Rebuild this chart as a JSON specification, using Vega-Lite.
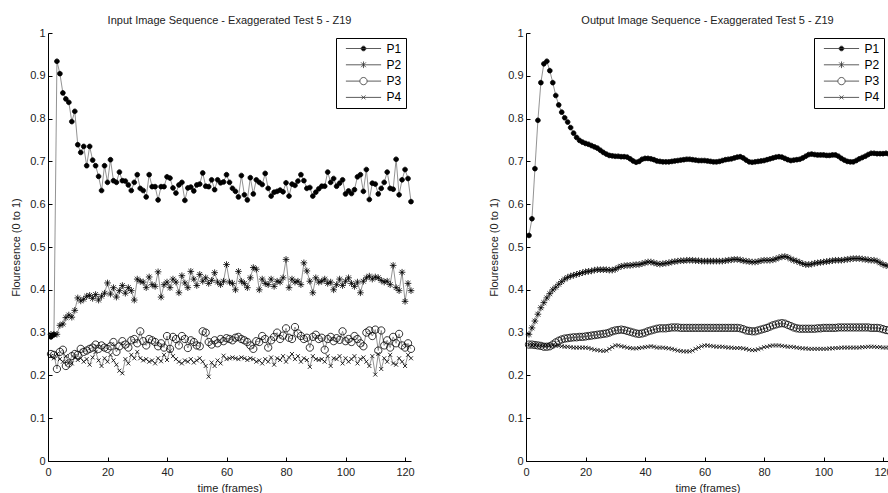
{
"$schema":"https://vega.github.io/schema/vega-lite/v6.json",
"padding":{"left":10,"top":15,"right":0,"bottom":0},
"datasets":{
"inp":[
{"s":"P1","x":1,"y":0.29},{"s":"P1","x":2,"y":0.295},{"s":"P1","x":3,"y":0.934},{"s":"P1","x":4,"y":0.905},{"s":"P1","x":5,"y":0.86},{"s":"P1","x":6,"y":0.846},{"s":"P1","x":7,"y":0.838},{"s":"P1","x":8,"y":0.793},{"s":"P1","x":9,"y":0.817},{"s":"P1","x":10,"y":0.739},
{"s":"P1","x":11,"y":0.721},{"s":"P1","x":12,"y":0.735},{"s":"P1","x":13,"y":0.69},{"s":"P1","x":14,"y":0.735},{"s":"P1","x":15,"y":0.703},{"s":"P1","x":16,"y":0.69},{"s":"P1","x":17,"y":0.665},{"s":"P1","x":18,"y":0.632},{"s":"P1","x":19,"y":0.69},{"s":"P1","x":20,"y":0.651},
{"s":"P1","x":21,"y":0.704},{"s":"P1","x":22,"y":0.655},{"s":"P1","x":23,"y":0.651},{"s":"P1","x":24,"y":0.675},{"s":"P1","x":25,"y":0.655},{"s":"P1","x":26,"y":0.654},{"s":"P1","x":27,"y":0.645},{"s":"P1","x":28,"y":0.632},{"s":"P1","x":29,"y":0.651},{"s":"P1","x":30,"y":0.669},
{"s":"P1","x":31,"y":0.637},{"s":"P1","x":32,"y":0.632},{"s":"P1","x":33,"y":0.617},{"s":"P1","x":34,"y":0.669},{"s":"P1","x":35,"y":0.641},{"s":"P1","x":36,"y":0.641},{"s":"P1","x":37,"y":0.61},{"s":"P1","x":38,"y":0.641},{"s":"P1","x":39,"y":0.641},{"s":"P1","x":40,"y":0.664},
{"s":"P1","x":41,"y":0.661},{"s":"P1","x":42,"y":0.638},{"s":"P1","x":43,"y":0.626},{"s":"P1","x":44,"y":0.645},{"s":"P1","x":45,"y":0.651},{"s":"P1","x":46,"y":0.609},{"s":"P1","x":47,"y":0.638},{"s":"P1","x":48,"y":0.64},{"s":"P1","x":49,"y":0.631},{"s":"P1","x":50,"y":0.645},
{"s":"P1","x":51,"y":0.647},{"s":"P1","x":52,"y":0.673},{"s":"P1","x":53,"y":0.642},{"s":"P1","x":54,"y":0.641},{"s":"P1","x":55,"y":0.657},{"s":"P1","x":56,"y":0.634},{"s":"P1","x":57,"y":0.657},{"s":"P1","x":58,"y":0.65},{"s":"P1","x":59,"y":0.652},{"s":"P1","x":60,"y":0.669},
{"s":"P1","x":61,"y":0.651},{"s":"P1","x":62,"y":0.637},{"s":"P1","x":63,"y":0.63},{"s":"P1","x":64,"y":0.617},{"s":"P1","x":65,"y":0.667},{"s":"P1","x":66,"y":0.622},{"s":"P1","x":67,"y":0.61},{"s":"P1","x":68,"y":0.662},{"s":"P1","x":69,"y":0.624},{"s":"P1","x":70,"y":0.657},
{"s":"P1","x":71,"y":0.651},{"s":"P1","x":72,"y":0.646},{"s":"P1","x":73,"y":0.672},{"s":"P1","x":74,"y":0.637},{"s":"P1","x":75,"y":0.619},{"s":"P1","x":76,"y":0.628},{"s":"P1","x":77,"y":0.63},{"s":"P1","x":78,"y":0.633},{"s":"P1","x":79,"y":0.629},{"s":"P1","x":80,"y":0.65},
{"s":"P1","x":81,"y":0.619},{"s":"P1","x":82,"y":0.647},{"s":"P1","x":83,"y":0.644},{"s":"P1","x":84,"y":0.654},{"s":"P1","x":85,"y":0.669},{"s":"P1","x":86,"y":0.655},{"s":"P1","x":87,"y":0.637},{"s":"P1","x":88,"y":0.639},{"s":"P1","x":89,"y":0.619},{"s":"P1","x":90,"y":0.628},
{"s":"P1","x":91,"y":0.636},{"s":"P1","x":92,"y":0.642},{"s":"P1","x":93,"y":0.642},{"s":"P1","x":94,"y":0.675},{"s":"P1","x":95,"y":0.651},{"s":"P1","x":96,"y":0.66},{"s":"P1","x":97,"y":0.642},{"s":"P1","x":98,"y":0.649},{"s":"P1","x":99,"y":0.657},{"s":"P1","x":100,"y":0.624},
{"s":"P1","x":101,"y":0.631},{"s":"P1","x":102,"y":0.625},{"s":"P1","x":103,"y":0.634},{"s":"P1","x":104,"y":0.664},{"s":"P1","x":105,"y":0.669},{"s":"P1","x":106,"y":0.63},{"s":"P1","x":107,"y":0.681},{"s":"P1","x":108,"y":0.611},{"s":"P1","x":109,"y":0.649},{"s":"P1","x":110,"y":0.647},
{"s":"P1","x":111,"y":0.624},{"s":"P1","x":112,"y":0.637},{"s":"P1","x":113,"y":0.651},{"s":"P1","x":114,"y":0.675},{"s":"P1","x":115,"y":0.637},{"s":"P1","x":116,"y":0.635},{"s":"P1","x":117,"y":0.705},{"s":"P1","x":118,"y":0.622},{"s":"P1","x":119,"y":0.657},{"s":"P1","x":120,"y":0.681},
{"s":"P1","x":121,"y":0.66},{"s":"P1","x":122,"y":0.606},
{"s":"P2","x":1,"y":0.296},{"s":"P2","x":2,"y":0.296},{"s":"P2","x":3,"y":0.296},{"s":"P2","x":4,"y":0.317},{"s":"P2","x":5,"y":0.32},{"s":"P2","x":6,"y":0.335},{"s":"P2","x":7,"y":0.341},{"s":"P2","x":8,"y":0.336},{"s":"P2","x":9,"y":0.352},{"s":"P2","x":10,"y":0.381},
{"s":"P2","x":11,"y":0.374},{"s":"P2","x":12,"y":0.378},{"s":"P2","x":13,"y":0.385},{"s":"P2","x":14,"y":0.387},{"s":"P2","x":15,"y":0.38},{"s":"P2","x":16,"y":0.389},{"s":"P2","x":17,"y":0.376},{"s":"P2","x":18,"y":0.385},{"s":"P2","x":19,"y":0.392},{"s":"P2","x":20,"y":0.416},
{"s":"P2","x":21,"y":0.39},{"s":"P2","x":22,"y":0.405},{"s":"P2","x":23,"y":0.383},{"s":"P2","x":24,"y":0.398},{"s":"P2","x":25,"y":0.41},{"s":"P2","x":26,"y":0.392},{"s":"P2","x":27,"y":0.405},{"s":"P2","x":28,"y":0.398},{"s":"P2","x":29,"y":0.376},{"s":"P2","x":30,"y":0.425},
{"s":"P2","x":31,"y":0.42},{"s":"P2","x":32,"y":0.418},{"s":"P2","x":33,"y":0.405},{"s":"P2","x":34,"y":0.43},{"s":"P2","x":35,"y":0.412},{"s":"P2","x":36,"y":0.408},{"s":"P2","x":37,"y":0.442},{"s":"P2","x":38,"y":0.383},{"s":"P2","x":39,"y":0.412},{"s":"P2","x":40,"y":0.418},
{"s":"P2","x":41,"y":0.405},{"s":"P2","x":42,"y":0.425},{"s":"P2","x":43,"y":0.418},{"s":"P2","x":44,"y":0.393},{"s":"P2","x":45,"y":0.433},{"s":"P2","x":46,"y":0.416},{"s":"P2","x":47,"y":0.405},{"s":"P2","x":48,"y":0.443},{"s":"P2","x":49,"y":0.425},{"s":"P2","x":50,"y":0.41},
{"s":"P2","x":51,"y":0.436},{"s":"P2","x":52,"y":0.42},{"s":"P2","x":53,"y":0.428},{"s":"P2","x":54,"y":0.415},{"s":"P2","x":55,"y":0.422},{"s":"P2","x":56,"y":0.44},{"s":"P2","x":57,"y":0.418},{"s":"P2","x":58,"y":0.412},{"s":"P2","x":59,"y":0.42},{"s":"P2","x":60,"y":0.459},
{"s":"P2","x":61,"y":0.418},{"s":"P2","x":62,"y":0.415},{"s":"P2","x":63,"y":0.4},{"s":"P2","x":64,"y":0.443},{"s":"P2","x":65,"y":0.42},{"s":"P2","x":66,"y":0.415},{"s":"P2","x":67,"y":0.405},{"s":"P2","x":68,"y":0.428},{"s":"P2","x":69,"y":0.452},{"s":"P2","x":70,"y":0.448},
{"s":"P2","x":71,"y":0.4},{"s":"P2","x":72,"y":0.425},{"s":"P2","x":73,"y":0.415},{"s":"P2","x":74,"y":0.412},{"s":"P2","x":75,"y":0.425},{"s":"P2","x":76,"y":0.408},{"s":"P2","x":77,"y":0.42},{"s":"P2","x":78,"y":0.418},{"s":"P2","x":79,"y":0.428},{"s":"P2","x":80,"y":0.471},
{"s":"P2","x":81,"y":0.405},{"s":"P2","x":82,"y":0.425},{"s":"P2","x":83,"y":0.418},{"s":"P2","x":84,"y":0.42},{"s":"P2","x":85,"y":0.412},{"s":"P2","x":86,"y":0.463},{"s":"P2","x":87,"y":0.444},{"s":"P2","x":88,"y":0.42},{"s":"P2","x":89,"y":0.393},{"s":"P2","x":90,"y":0.428},
{"s":"P2","x":91,"y":0.418},{"s":"P2","x":92,"y":0.42},{"s":"P2","x":93,"y":0.425},{"s":"P2","x":94,"y":0.415},{"s":"P2","x":95,"y":0.418},{"s":"P2","x":96,"y":0.4},{"s":"P2","x":97,"y":0.412},{"s":"P2","x":98,"y":0.425},{"s":"P2","x":99,"y":0.41},{"s":"P2","x":100,"y":0.42},
{"s":"P2","x":101,"y":0.428},{"s":"P2","x":102,"y":0.415},{"s":"P2","x":103,"y":0.408},{"s":"P2","x":104,"y":0.418},{"s":"P2","x":105,"y":0.393},{"s":"P2","x":106,"y":0.42},{"s":"P2","x":107,"y":0.428},{"s":"P2","x":108,"y":0.432},{"s":"P2","x":109,"y":0.425},{"s":"P2","x":110,"y":0.43},
{"s":"P2","x":111,"y":0.428},{"s":"P2","x":112,"y":0.422},{"s":"P2","x":113,"y":0.418},{"s":"P2","x":114,"y":0.42},{"s":"P2","x":115,"y":0.412},{"s":"P2","x":116,"y":0.457},{"s":"P2","x":117,"y":0.405},{"s":"P2","x":118,"y":0.398},{"s":"P2","x":119,"y":0.441},{"s":"P2","x":120,"y":0.373},
{"s":"P2","x":121,"y":0.415},{"s":"P2","x":122,"y":0.398},
{"s":"P3","x":1,"y":0.25},{"s":"P3","x":2,"y":0.248},{"s":"P3","x":3,"y":0.215},{"s":"P3","x":4,"y":0.255},{"s":"P3","x":5,"y":0.26},{"s":"P3","x":6,"y":0.222},{"s":"P3","x":7,"y":0.228},{"s":"P3","x":8,"y":0.245},{"s":"P3","x":9,"y":0.25},{"s":"P3","x":10,"y":0.248},
{"s":"P3","x":11,"y":0.262},{"s":"P3","x":12,"y":0.255},{"s":"P3","x":13,"y":0.258},{"s":"P3","x":14,"y":0.262},{"s":"P3","x":15,"y":0.265},{"s":"P3","x":16,"y":0.272},{"s":"P3","x":17,"y":0.262},{"s":"P3","x":18,"y":0.27},{"s":"P3","x":19,"y":0.265},{"s":"P3","x":20,"y":0.262},
{"s":"P3","x":21,"y":0.268},{"s":"P3","x":22,"y":0.278},{"s":"P3","x":23,"y":0.255},{"s":"P3","x":24,"y":0.268},{"s":"P3","x":25,"y":0.28},{"s":"P3","x":26,"y":0.272},{"s":"P3","x":27,"y":0.265},{"s":"P3","x":28,"y":0.282},{"s":"P3","x":29,"y":0.285},{"s":"P3","x":30,"y":0.275},
{"s":"P3","x":31,"y":0.303},{"s":"P3","x":32,"y":0.28},{"s":"P3","x":33,"y":0.27},{"s":"P3","x":34,"y":0.285},{"s":"P3","x":35,"y":0.282},{"s":"P3","x":36,"y":0.278},{"s":"P3","x":37,"y":0.268},{"s":"P3","x":38,"y":0.275},{"s":"P3","x":39,"y":0.265},{"s":"P3","x":40,"y":0.292},
{"s":"P3","x":41,"y":0.262},{"s":"P3","x":42,"y":0.29},{"s":"P3","x":43,"y":0.285},{"s":"P3","x":44,"y":0.27},{"s":"P3","x":45,"y":0.292},{"s":"P3","x":46,"y":0.285},{"s":"P3","x":47,"y":0.264},{"s":"P3","x":48,"y":0.282},{"s":"P3","x":49,"y":0.278},{"s":"P3","x":50,"y":0.27},
{"s":"P3","x":51,"y":0.268},{"s":"P3","x":52,"y":0.303},{"s":"P3","x":53,"y":0.3},{"s":"P3","x":54,"y":0.278},{"s":"P3","x":55,"y":0.272},{"s":"P3","x":56,"y":0.282},{"s":"P3","x":57,"y":0.275},{"s":"P3","x":58,"y":0.285},{"s":"P3","x":59,"y":0.28},{"s":"P3","x":60,"y":0.287},
{"s":"P3","x":61,"y":0.285},{"s":"P3","x":62,"y":0.282},{"s":"P3","x":63,"y":0.288},{"s":"P3","x":64,"y":0.29},{"s":"P3","x":65,"y":0.285},{"s":"P3","x":66,"y":0.282},{"s":"P3","x":67,"y":0.278},{"s":"P3","x":68,"y":0.27},{"s":"P3","x":69,"y":0.262},{"s":"P3","x":70,"y":0.28},
{"s":"P3","x":71,"y":0.278},{"s":"P3","x":72,"y":0.292},{"s":"P3","x":73,"y":0.285},{"s":"P3","x":74,"y":0.265},{"s":"P3","x":75,"y":0.282},{"s":"P3","x":76,"y":0.29},{"s":"P3","x":77,"y":0.3},{"s":"P3","x":78,"y":0.285},{"s":"P3","x":79,"y":0.293},{"s":"P3","x":80,"y":0.31},
{"s":"P3","x":81,"y":0.288},{"s":"P3","x":82,"y":0.285},{"s":"P3","x":83,"y":0.313},{"s":"P3","x":84,"y":0.298},{"s":"P3","x":85,"y":0.292},{"s":"P3","x":86,"y":0.285},{"s":"P3","x":87,"y":0.288},{"s":"P3","x":88,"y":0.265},{"s":"P3","x":89,"y":0.29},{"s":"P3","x":90,"y":0.295},
{"s":"P3","x":91,"y":0.285},{"s":"P3","x":92,"y":0.288},{"s":"P3","x":93,"y":0.26},{"s":"P3","x":94,"y":0.285},{"s":"P3","x":95,"y":0.29},{"s":"P3","x":96,"y":0.28},{"s":"P3","x":97,"y":0.287},{"s":"P3","x":98,"y":0.283},{"s":"P3","x":99,"y":0.303},{"s":"P3","x":100,"y":0.28},
{"s":"P3","x":101,"y":0.285},{"s":"P3","x":102,"y":0.278},{"s":"P3","x":103,"y":0.292},{"s":"P3","x":104,"y":0.285},{"s":"P3","x":105,"y":0.275},{"s":"P3","x":106,"y":0.268},{"s":"P3","x":107,"y":0.3},{"s":"P3","x":108,"y":0.305},{"s":"P3","x":109,"y":0.292},{"s":"P3","x":110,"y":0.307},
{"s":"P3","x":111,"y":0.258},{"s":"P3","x":112,"y":0.305},{"s":"P3","x":113,"y":0.27},{"s":"P3","x":114,"y":0.282},{"s":"P3","x":115,"y":0.265},{"s":"P3","x":116,"y":0.29},{"s":"P3","x":117,"y":0.275},{"s":"P3","x":118,"y":0.297},{"s":"P3","x":119,"y":0.27},{"s":"P3","x":120,"y":0.265},
{"s":"P3","x":121,"y":0.275},{"s":"P3","x":122,"y":0.262},
{"s":"P4","x":1,"y":0.245},{"s":"P4","x":2,"y":0.24},{"s":"P4","x":3,"y":0.25},{"s":"P4","x":4,"y":0.238},{"s":"P4","x":5,"y":0.232},{"s":"P4","x":6,"y":0.245},{"s":"P4","x":7,"y":0.23},{"s":"P4","x":8,"y":0.228},{"s":"P4","x":9,"y":0.242},{"s":"P4","x":10,"y":0.236},
{"s":"P4","x":11,"y":0.24},{"s":"P4","x":12,"y":0.232},{"s":"P4","x":13,"y":0.238},{"s":"P4","x":14,"y":0.225},{"s":"P4","x":15,"y":0.242},{"s":"P4","x":16,"y":0.255},{"s":"P4","x":17,"y":0.235},{"s":"P4","x":18,"y":0.222},{"s":"P4","x":19,"y":0.24},{"s":"P4","x":20,"y":0.232},
{"s":"P4","x":21,"y":0.248},{"s":"P4","x":22,"y":0.235},{"s":"P4","x":23,"y":0.225},{"s":"P4","x":24,"y":0.211},{"s":"P4","x":25,"y":0.205},{"s":"P4","x":26,"y":0.238},{"s":"P4","x":27,"y":0.228},{"s":"P4","x":28,"y":0.248},{"s":"P4","x":29,"y":0.24},{"s":"P4","x":30,"y":0.255},
{"s":"P4","x":31,"y":0.24},{"s":"P4","x":32,"y":0.235},{"s":"P4","x":33,"y":0.238},{"s":"P4","x":34,"y":0.232},{"s":"P4","x":35,"y":0.235},{"s":"P4","x":36,"y":0.228},{"s":"P4","x":37,"y":0.24},{"s":"P4","x":38,"y":0.233},{"s":"P4","x":39,"y":0.248},{"s":"P4","x":40,"y":0.236},
{"s":"P4","x":41,"y":0.258},{"s":"P4","x":42,"y":0.245},{"s":"P4","x":43,"y":0.238},{"s":"P4","x":44,"y":0.232},{"s":"P4","x":45,"y":0.228},{"s":"P4","x":46,"y":0.235},{"s":"P4","x":47,"y":0.232},{"s":"P4","x":48,"y":0.238},{"s":"P4","x":49,"y":0.23},{"s":"P4","x":50,"y":0.235},
{"s":"P4","x":51,"y":0.24},{"s":"P4","x":52,"y":0.232},{"s":"P4","x":53,"y":0.222},{"s":"P4","x":54,"y":0.197},{"s":"P4","x":55,"y":0.23},{"s":"P4","x":56,"y":0.222},{"s":"P4","x":57,"y":0.235},{"s":"P4","x":58,"y":0.228},{"s":"P4","x":59,"y":0.246},{"s":"P4","x":60,"y":0.238},
{"s":"P4","x":61,"y":0.24},{"s":"P4","x":62,"y":0.242},{"s":"P4","x":63,"y":0.24},{"s":"P4","x":64,"y":0.238},{"s":"P4","x":65,"y":0.242},{"s":"P4","x":66,"y":0.24},{"s":"P4","x":67,"y":0.236},{"s":"P4","x":68,"y":0.24},{"s":"P4","x":69,"y":0.238},{"s":"P4","x":70,"y":0.232},
{"s":"P4","x":71,"y":0.235},{"s":"P4","x":72,"y":0.228},{"s":"P4","x":73,"y":0.238},{"s":"P4","x":74,"y":0.232},{"s":"P4","x":75,"y":0.242},{"s":"P4","x":76,"y":0.225},{"s":"P4","x":77,"y":0.24},{"s":"P4","x":78,"y":0.236},{"s":"P4","x":79,"y":0.245},{"s":"P4","x":80,"y":0.232},
{"s":"P4","x":81,"y":0.242},{"s":"P4","x":82,"y":0.25},{"s":"P4","x":83,"y":0.238},{"s":"P4","x":84,"y":0.245},{"s":"P4","x":85,"y":0.232},{"s":"P4","x":86,"y":0.24},{"s":"P4","x":87,"y":0.236},{"s":"P4","x":88,"y":0.22},{"s":"P4","x":89,"y":0.245},{"s":"P4","x":90,"y":0.238},
{"s":"P4","x":91,"y":0.236},{"s":"P4","x":92,"y":0.238},{"s":"P4","x":93,"y":0.232},{"s":"P4","x":94,"y":0.245},{"s":"P4","x":95,"y":0.222},{"s":"P4","x":96,"y":0.24},{"s":"P4","x":97,"y":0.238},{"s":"P4","x":98,"y":0.245},{"s":"P4","x":99,"y":0.228},{"s":"P4","x":100,"y":0.24},
{"s":"P4","x":101,"y":0.232},{"s":"P4","x":102,"y":0.238},{"s":"P4","x":103,"y":0.245},{"s":"P4","x":104,"y":0.228},{"s":"P4","x":105,"y":0.238},{"s":"P4","x":106,"y":0.242},{"s":"P4","x":107,"y":0.232},{"s":"P4","x":108,"y":0.222},{"s":"P4","x":109,"y":0.245},{"s":"P4","x":110,"y":0.202},
{"s":"P4","x":111,"y":0.25},{"s":"P4","x":112,"y":0.215},{"s":"P4","x":113,"y":0.24},{"s":"P4","x":114,"y":0.232},{"s":"P4","x":115,"y":0.248},{"s":"P4","x":116,"y":0.228},{"s":"P4","x":117,"y":0.225},{"s":"P4","x":118,"y":0.24},{"s":"P4","x":119,"y":0.232},{"s":"P4","x":120,"y":0.222},
{"s":"P4","x":121,"y":0.248},{"s":"P4","x":122,"y":0.24}
],
"out":[
{"s":"P1","x":1,"y":0.527},{"s":"P1","x":2,"y":0.566},{"s":"P1","x":3,"y":0.683},{"s":"P1","x":4,"y":0.796},{"s":"P1","x":5,"y":0.884},{"s":"P1","x":6,"y":0.928},{"s":"P1","x":7,"y":0.934},{"s":"P1","x":8,"y":0.912},{"s":"P1","x":9,"y":0.884},{"s":"P1","x":10,"y":0.854},
{"s":"P1","x":11,"y":0.832},{"s":"P1","x":12,"y":0.815},{"s":"P1","x":13,"y":0.802},{"s":"P1","x":14,"y":0.792},{"s":"P1","x":15,"y":0.779},{"s":"P1","x":16,"y":0.766},{"s":"P1","x":17,"y":0.756},{"s":"P1","x":18,"y":0.749},{"s":"P1","x":19,"y":0.745},{"s":"P1","x":20,"y":0.742},
{"s":"P1","x":21,"y":0.74},{"s":"P1","x":22,"y":0.737},{"s":"P1","x":23,"y":0.734},{"s":"P1","x":24,"y":0.731},{"s":"P1","x":25,"y":0.726},{"s":"P1","x":26,"y":0.721},{"s":"P1","x":27,"y":0.717},{"s":"P1","x":28,"y":0.714},{"s":"P1","x":29,"y":0.713},{"s":"P1","x":30,"y":0.712},
{"s":"P1","x":31,"y":0.712},{"s":"P1","x":32,"y":0.711},{"s":"P1","x":33,"y":0.711},{"s":"P1","x":34,"y":0.71},{"s":"P1","x":35,"y":0.706},{"s":"P1","x":36,"y":0.701},{"s":"P1","x":37,"y":0.698},{"s":"P1","x":38,"y":0.7},{"s":"P1","x":39,"y":0.705},{"s":"P1","x":40,"y":0.707},
{"s":"P1","x":41,"y":0.707},{"s":"P1","x":42,"y":0.706},{"s":"P1","x":43,"y":0.704},{"s":"P1","x":44,"y":0.701},{"s":"P1","x":45,"y":0.7},{"s":"P1","x":46,"y":0.699},{"s":"P1","x":47,"y":0.699},{"s":"P1","x":48,"y":0.699},{"s":"P1","x":49,"y":0.7},{"s":"P1","x":50,"y":0.701},
{"s":"P1","x":51,"y":0.702},{"s":"P1","x":52,"y":0.703},{"s":"P1","x":53,"y":0.704},{"s":"P1","x":54,"y":0.705},{"s":"P1","x":55,"y":0.705},{"s":"P1","x":56,"y":0.704},{"s":"P1","x":57,"y":0.703},{"s":"P1","x":58,"y":0.702},{"s":"P1","x":59,"y":0.702},{"s":"P1","x":60,"y":0.702},
{"s":"P1","x":61,"y":0.701},{"s":"P1","x":62,"y":0.7},{"s":"P1","x":63,"y":0.699},{"s":"P1","x":64,"y":0.699},{"s":"P1","x":65,"y":0.7},{"s":"P1","x":66,"y":0.702},{"s":"P1","x":67,"y":0.704},{"s":"P1","x":68,"y":0.705},{"s":"P1","x":69,"y":0.706},{"s":"P1","x":70,"y":0.708},
{"s":"P1","x":71,"y":0.71},{"s":"P1","x":72,"y":0.711},{"s":"P1","x":73,"y":0.708},{"s":"P1","x":74,"y":0.703},{"s":"P1","x":75,"y":0.699},{"s":"P1","x":76,"y":0.698},{"s":"P1","x":77,"y":0.699},{"s":"P1","x":78,"y":0.7},{"s":"P1","x":79,"y":0.701},{"s":"P1","x":80,"y":0.702},
{"s":"P1","x":81,"y":0.704},{"s":"P1","x":82,"y":0.706},{"s":"P1","x":83,"y":0.708},{"s":"P1","x":84,"y":0.71},{"s":"P1","x":85,"y":0.711},{"s":"P1","x":86,"y":0.71},{"s":"P1","x":87,"y":0.707},{"s":"P1","x":88,"y":0.704},{"s":"P1","x":89,"y":0.702},{"s":"P1","x":90,"y":0.703},
{"s":"P1","x":91,"y":0.704},{"s":"P1","x":92,"y":0.705},{"s":"P1","x":93,"y":0.708},{"s":"P1","x":94,"y":0.712},{"s":"P1","x":95,"y":0.716},{"s":"P1","x":96,"y":0.717},{"s":"P1","x":97,"y":0.716},{"s":"P1","x":98,"y":0.715},{"s":"P1","x":99,"y":0.715},{"s":"P1","x":100,"y":0.715},
{"s":"P1","x":101,"y":0.714},{"s":"P1","x":102,"y":0.714},{"s":"P1","x":103,"y":0.715},{"s":"P1","x":104,"y":0.715},{"s":"P1","x":105,"y":0.712},{"s":"P1","x":106,"y":0.707},{"s":"P1","x":107,"y":0.703},{"s":"P1","x":108,"y":0.7},{"s":"P1","x":109,"y":0.699},{"s":"P1","x":110,"y":0.699},
{"s":"P1","x":111,"y":0.702},{"s":"P1","x":112,"y":0.706},{"s":"P1","x":113,"y":0.709},{"s":"P1","x":114,"y":0.712},{"s":"P1","x":115,"y":0.716},{"s":"P1","x":116,"y":0.719},{"s":"P1","x":117,"y":0.719},{"s":"P1","x":118,"y":0.718},{"s":"P1","x":119,"y":0.718},{"s":"P1","x":120,"y":0.718},
{"s":"P1","x":121,"y":0.719},{"s":"P1","x":122,"y":0.717},
{"s":"P2","x":1,"y":0.296},{"s":"P2","x":2,"y":0.311},{"s":"P2","x":3,"y":0.327},{"s":"P2","x":4,"y":0.343},{"s":"P2","x":5,"y":0.358},{"s":"P2","x":6,"y":0.37},{"s":"P2","x":7,"y":0.381},{"s":"P2","x":8,"y":0.391},{"s":"P2","x":9,"y":0.4},{"s":"P2","x":10,"y":0.406},
{"s":"P2","x":11,"y":0.413},{"s":"P2","x":12,"y":0.419},{"s":"P2","x":13,"y":0.425},{"s":"P2","x":14,"y":0.429},{"s":"P2","x":15,"y":0.432},{"s":"P2","x":16,"y":0.434},{"s":"P2","x":17,"y":0.436},{"s":"P2","x":18,"y":0.438},{"s":"P2","x":19,"y":0.44},{"s":"P2","x":20,"y":0.442},
{"s":"P2","x":21,"y":0.443},{"s":"P2","x":22,"y":0.444},{"s":"P2","x":23,"y":0.446},{"s":"P2","x":24,"y":0.447},{"s":"P2","x":25,"y":0.447},{"s":"P2","x":26,"y":0.447},{"s":"P2","x":27,"y":0.447},{"s":"P2","x":28,"y":0.446},{"s":"P2","x":29,"y":0.446},{"s":"P2","x":30,"y":0.448},
{"s":"P2","x":31,"y":0.452},{"s":"P2","x":32,"y":0.455},{"s":"P2","x":33,"y":0.456},{"s":"P2","x":34,"y":0.457},{"s":"P2","x":35,"y":0.457},{"s":"P2","x":36,"y":0.458},{"s":"P2","x":37,"y":0.459},{"s":"P2","x":38,"y":0.459},{"s":"P2","x":39,"y":0.461},{"s":"P2","x":40,"y":0.463},
{"s":"P2","x":41,"y":0.465},{"s":"P2","x":42,"y":0.465},{"s":"P2","x":43,"y":0.463},{"s":"P2","x":44,"y":0.461},{"s":"P2","x":45,"y":0.46},{"s":"P2","x":46,"y":0.461},{"s":"P2","x":47,"y":0.462},{"s":"P2","x":48,"y":0.463},{"s":"P2","x":49,"y":0.465},{"s":"P2","x":50,"y":0.466},
{"s":"P2","x":51,"y":0.467},{"s":"P2","x":52,"y":0.468},{"s":"P2","x":53,"y":0.468},{"s":"P2","x":54,"y":0.469},{"s":"P2","x":55,"y":0.469},{"s":"P2","x":56,"y":0.469},{"s":"P2","x":57,"y":0.468},{"s":"P2","x":58,"y":0.468},{"s":"P2","x":59,"y":0.467},{"s":"P2","x":60,"y":0.467},
{"s":"P2","x":61,"y":0.467},{"s":"P2","x":62,"y":0.467},{"s":"P2","x":63,"y":0.467},{"s":"P2","x":64,"y":0.467},{"s":"P2","x":65,"y":0.467},{"s":"P2","x":66,"y":0.467},{"s":"P2","x":67,"y":0.468},{"s":"P2","x":68,"y":0.469},{"s":"P2","x":69,"y":0.47},{"s":"P2","x":70,"y":0.471},
{"s":"P2","x":71,"y":0.471},{"s":"P2","x":72,"y":0.47},{"s":"P2","x":73,"y":0.468},{"s":"P2","x":74,"y":0.467},{"s":"P2","x":75,"y":0.466},{"s":"P2","x":76,"y":0.465},{"s":"P2","x":77,"y":0.465},{"s":"P2","x":78,"y":0.466},{"s":"P2","x":79,"y":0.468},{"s":"P2","x":80,"y":0.469},
{"s":"P2","x":81,"y":0.469},{"s":"P2","x":82,"y":0.469},{"s":"P2","x":83,"y":0.47},{"s":"P2","x":84,"y":0.472},{"s":"P2","x":85,"y":0.475},{"s":"P2","x":86,"y":0.477},{"s":"P2","x":87,"y":0.478},{"s":"P2","x":88,"y":0.476},{"s":"P2","x":89,"y":0.472},{"s":"P2","x":90,"y":0.469},
{"s":"P2","x":91,"y":0.467},{"s":"P2","x":92,"y":0.464},{"s":"P2","x":93,"y":0.461},{"s":"P2","x":94,"y":0.459},{"s":"P2","x":95,"y":0.459},{"s":"P2","x":96,"y":0.46},{"s":"P2","x":97,"y":0.462},{"s":"P2","x":98,"y":0.463},{"s":"P2","x":99,"y":0.464},{"s":"P2","x":100,"y":0.465},
{"s":"P2","x":101,"y":0.466},{"s":"P2","x":102,"y":0.467},{"s":"P2","x":103,"y":0.468},{"s":"P2","x":104,"y":0.469},{"s":"P2","x":105,"y":0.469},{"s":"P2","x":106,"y":0.469},{"s":"P2","x":107,"y":0.47},{"s":"P2","x":108,"y":0.471},{"s":"P2","x":109,"y":0.472},{"s":"P2","x":110,"y":0.473},
{"s":"P2","x":111,"y":0.473},{"s":"P2","x":112,"y":0.473},{"s":"P2","x":113,"y":0.472},{"s":"P2","x":114,"y":0.471},{"s":"P2","x":115,"y":0.47},{"s":"P2","x":116,"y":0.469},{"s":"P2","x":117,"y":0.469},{"s":"P2","x":118,"y":0.467},{"s":"P2","x":119,"y":0.463},{"s":"P2","x":120,"y":0.459},
{"s":"P2","x":121,"y":0.457},{"s":"P2","x":122,"y":0.455},
{"s":"P3","x":1,"y":0.272},{"s":"P3","x":2,"y":0.272},{"s":"P3","x":3,"y":0.271},{"s":"P3","x":4,"y":0.27},{"s":"P3","x":5,"y":0.269},{"s":"P3","x":6,"y":0.267},{"s":"P3","x":7,"y":0.267},{"s":"P3","x":8,"y":0.268},{"s":"P3","x":9,"y":0.272},{"s":"P3","x":10,"y":0.277},
{"s":"P3","x":11,"y":0.281},{"s":"P3","x":12,"y":0.284},{"s":"P3","x":13,"y":0.286},{"s":"P3","x":14,"y":0.287},{"s":"P3","x":15,"y":0.288},{"s":"P3","x":16,"y":0.289},{"s":"P3","x":17,"y":0.289},{"s":"P3","x":18,"y":0.29},{"s":"P3","x":19,"y":0.29},{"s":"P3","x":20,"y":0.291},
{"s":"P3","x":21,"y":0.292},{"s":"P3","x":22,"y":0.293},{"s":"P3","x":23,"y":0.294},{"s":"P3","x":24,"y":0.295},{"s":"P3","x":25,"y":0.296},{"s":"P3","x":26,"y":0.297},{"s":"P3","x":27,"y":0.298},{"s":"P3","x":28,"y":0.3},{"s":"P3","x":29,"y":0.303},{"s":"P3","x":30,"y":0.305},
{"s":"P3","x":31,"y":0.306},{"s":"P3","x":32,"y":0.307},{"s":"P3","x":33,"y":0.306},{"s":"P3","x":34,"y":0.304},{"s":"P3","x":35,"y":0.302},{"s":"P3","x":36,"y":0.3},{"s":"P3","x":37,"y":0.298},{"s":"P3","x":38,"y":0.297},{"s":"P3","x":39,"y":0.298},{"s":"P3","x":40,"y":0.3},
{"s":"P3","x":41,"y":0.303},{"s":"P3","x":42,"y":0.305},{"s":"P3","x":43,"y":0.307},{"s":"P3","x":44,"y":0.309},{"s":"P3","x":45,"y":0.31},{"s":"P3","x":46,"y":0.31},{"s":"P3","x":47,"y":0.31},{"s":"P3","x":48,"y":0.311},{"s":"P3","x":49,"y":0.312},{"s":"P3","x":50,"y":0.312},
{"s":"P3","x":51,"y":0.312},{"s":"P3","x":52,"y":0.311},{"s":"P3","x":53,"y":0.311},{"s":"P3","x":54,"y":0.311},{"s":"P3","x":55,"y":0.311},{"s":"P3","x":56,"y":0.311},{"s":"P3","x":57,"y":0.311},{"s":"P3","x":58,"y":0.311},{"s":"P3","x":59,"y":0.311},{"s":"P3","x":60,"y":0.311},
{"s":"P3","x":61,"y":0.311},{"s":"P3","x":62,"y":0.311},{"s":"P3","x":63,"y":0.311},{"s":"P3","x":64,"y":0.311},{"s":"P3","x":65,"y":0.311},{"s":"P3","x":66,"y":0.311},{"s":"P3","x":67,"y":0.311},{"s":"P3","x":68,"y":0.311},{"s":"P3","x":69,"y":0.311},{"s":"P3","x":70,"y":0.311},
{"s":"P3","x":71,"y":0.311},{"s":"P3","x":72,"y":0.31},{"s":"P3","x":73,"y":0.308},{"s":"P3","x":74,"y":0.305},{"s":"P3","x":75,"y":0.304},{"s":"P3","x":76,"y":0.303},{"s":"P3","x":77,"y":0.303},{"s":"P3","x":78,"y":0.305},{"s":"P3","x":79,"y":0.307},{"s":"P3","x":80,"y":0.309},
{"s":"P3","x":81,"y":0.311},{"s":"P3","x":82,"y":0.314},{"s":"P3","x":83,"y":0.317},{"s":"P3","x":84,"y":0.319},{"s":"P3","x":85,"y":0.321},{"s":"P3","x":86,"y":0.322},{"s":"P3","x":87,"y":0.321},{"s":"P3","x":88,"y":0.318},{"s":"P3","x":89,"y":0.315},{"s":"P3","x":90,"y":0.312},
{"s":"P3","x":91,"y":0.31},{"s":"P3","x":92,"y":0.309},{"s":"P3","x":93,"y":0.309},{"s":"P3","x":94,"y":0.309},{"s":"P3","x":95,"y":0.309},{"s":"P3","x":96,"y":0.309},{"s":"P3","x":97,"y":0.309},{"s":"P3","x":98,"y":0.31},{"s":"P3","x":99,"y":0.31},{"s":"P3","x":100,"y":0.311},
{"s":"P3","x":101,"y":0.311},{"s":"P3","x":102,"y":0.311},{"s":"P3","x":103,"y":0.311},{"s":"P3","x":104,"y":0.311},{"s":"P3","x":105,"y":0.312},{"s":"P3","x":106,"y":0.312},{"s":"P3","x":107,"y":0.312},{"s":"P3","x":108,"y":0.312},{"s":"P3","x":109,"y":0.312},{"s":"P3","x":110,"y":0.312},
{"s":"P3","x":111,"y":0.312},{"s":"P3","x":112,"y":0.312},{"s":"P3","x":113,"y":0.312},{"s":"P3","x":114,"y":0.312},{"s":"P3","x":115,"y":0.312},{"s":"P3","x":116,"y":0.311},{"s":"P3","x":117,"y":0.311},{"s":"P3","x":118,"y":0.311},{"s":"P3","x":119,"y":0.31},{"s":"P3","x":120,"y":0.308},
{"s":"P3","x":121,"y":0.306},{"s":"P3","x":122,"y":0.305},
{"s":"P4","x":1,"y":0.272},{"s":"P4","x":2,"y":0.271},{"s":"P4","x":3,"y":0.271},{"s":"P4","x":4,"y":0.27},{"s":"P4","x":5,"y":0.27},{"s":"P4","x":6,"y":0.27},{"s":"P4","x":7,"y":0.27},{"s":"P4","x":8,"y":0.27},{"s":"P4","x":9,"y":0.27},{"s":"P4","x":10,"y":0.27},
{"s":"P4","x":11,"y":0.269},{"s":"P4","x":12,"y":0.268},{"s":"P4","x":13,"y":0.267},{"s":"P4","x":14,"y":0.267},{"s":"P4","x":15,"y":0.266},{"s":"P4","x":16,"y":0.265},{"s":"P4","x":17,"y":0.265},{"s":"P4","x":18,"y":0.265},{"s":"P4","x":19,"y":0.265},{"s":"P4","x":20,"y":0.265},
{"s":"P4","x":21,"y":0.264},{"s":"P4","x":22,"y":0.262},{"s":"P4","x":23,"y":0.26},{"s":"P4","x":24,"y":0.259},{"s":"P4","x":25,"y":0.258},{"s":"P4","x":26,"y":0.257},{"s":"P4","x":27,"y":0.258},{"s":"P4","x":28,"y":0.262},{"s":"P4","x":29,"y":0.266},{"s":"P4","x":30,"y":0.27},
{"s":"P4","x":31,"y":0.27},{"s":"P4","x":32,"y":0.268},{"s":"P4","x":33,"y":0.267},{"s":"P4","x":34,"y":0.265},{"s":"P4","x":35,"y":0.264},{"s":"P4","x":36,"y":0.263},{"s":"P4","x":37,"y":0.263},{"s":"P4","x":38,"y":0.264},{"s":"P4","x":39,"y":0.265},{"s":"P4","x":40,"y":0.266},
{"s":"P4","x":41,"y":0.267},{"s":"P4","x":42,"y":0.268},{"s":"P4","x":43,"y":0.267},{"s":"P4","x":44,"y":0.265},{"s":"P4","x":45,"y":0.265},{"s":"P4","x":46,"y":0.265},{"s":"P4","x":47,"y":0.264},{"s":"P4","x":48,"y":0.263},{"s":"P4","x":49,"y":0.262},{"s":"P4","x":50,"y":0.26},
{"s":"P4","x":51,"y":0.258},{"s":"P4","x":52,"y":0.257},{"s":"P4","x":53,"y":0.256},{"s":"P4","x":54,"y":0.256},{"s":"P4","x":55,"y":0.256},{"s":"P4","x":56,"y":0.258},{"s":"P4","x":57,"y":0.262},{"s":"P4","x":58,"y":0.265},{"s":"P4","x":59,"y":0.268},{"s":"P4","x":60,"y":0.27},
{"s":"P4","x":61,"y":0.27},{"s":"P4","x":62,"y":0.269},{"s":"P4","x":63,"y":0.268},{"s":"P4","x":64,"y":0.267},{"s":"P4","x":65,"y":0.267},{"s":"P4","x":66,"y":0.267},{"s":"P4","x":67,"y":0.266},{"s":"P4","x":68,"y":0.265},{"s":"P4","x":69,"y":0.265},{"s":"P4","x":70,"y":0.264},
{"s":"P4","x":71,"y":0.264},{"s":"P4","x":72,"y":0.264},{"s":"P4","x":73,"y":0.263},{"s":"P4","x":74,"y":0.262},{"s":"P4","x":75,"y":0.26},{"s":"P4","x":76,"y":0.259},{"s":"P4","x":77,"y":0.259},{"s":"P4","x":78,"y":0.261},{"s":"P4","x":79,"y":0.263},{"s":"P4","x":80,"y":0.266},
{"s":"P4","x":81,"y":0.267},{"s":"P4","x":82,"y":0.269},{"s":"P4","x":83,"y":0.27},{"s":"P4","x":84,"y":0.27},{"s":"P4","x":85,"y":0.27},{"s":"P4","x":86,"y":0.269},{"s":"P4","x":87,"y":0.268},{"s":"P4","x":88,"y":0.267},{"s":"P4","x":89,"y":0.267},{"s":"P4","x":90,"y":0.266},
{"s":"P4","x":91,"y":0.265},{"s":"P4","x":92,"y":0.264},{"s":"P4","x":93,"y":0.263},{"s":"P4","x":94,"y":0.263},{"s":"P4","x":95,"y":0.262},{"s":"P4","x":96,"y":0.262},{"s":"P4","x":97,"y":0.262},{"s":"P4","x":98,"y":0.262},{"s":"P4","x":99,"y":0.262},{"s":"P4","x":100,"y":0.262},
{"s":"P4","x":101,"y":0.262},{"s":"P4","x":102,"y":0.263},{"s":"P4","x":103,"y":0.263},{"s":"P4","x":104,"y":0.264},{"s":"P4","x":105,"y":0.264},{"s":"P4","x":106,"y":0.265},{"s":"P4","x":107,"y":0.265},{"s":"P4","x":108,"y":0.265},{"s":"P4","x":109,"y":0.265},{"s":"P4","x":110,"y":0.265},
{"s":"P4","x":111,"y":0.265},{"s":"P4","x":112,"y":0.265},{"s":"P4","x":113,"y":0.266},{"s":"P4","x":114,"y":0.266},{"s":"P4","x":115,"y":0.267},{"s":"P4","x":116,"y":0.267},{"s":"P4","x":117,"y":0.267},{"s":"P4","x":118,"y":0.266},{"s":"P4","x":119,"y":0.266},{"s":"P4","x":120,"y":0.265},
{"s":"P4","x":121,"y":0.265},{"s":"P4","x":122,"y":0.265}
]
},
"config":{
"view":{"stroke":null},
"font":"Liberation Sans",
"axis":{"grid":false,"domainColor":"#000","domainWidth":1,"tickColor":"#000","tickWidth":1,"tickSize":-4,"labelColor":"#222","labelFont":"Liberation Sans","labelFontSize":11,"titleFont":"Liberation Sans","titleFontSize":11,"titleFontWeight":"normal","titleColor":"#222"},
"title":{"font":"Liberation Sans","fontSize":11,"fontWeight":"normal","color":"#222","offset":1,"frame":"group","anchor":"middle"}
},
"spacing":115,
"bounds":"flush",
"resolve":{"scale":{"shape":"independent","fill":"independent"},"legend":{"shape":"independent","fill":"independent"}},
"hconcat":[
{
"width":363,"height":428,
"title":"Input Image Sequence - Exaggerated Test 5 - Z19",
"data":{"name":"inp"},
"layer":[
{"mark":{"type":"line","color":"#777","strokeWidth":0.8},
"encoding":{
"x":{"field":"x","type":"quantitative","scale":{"domain":[0,122],"nice":false,"zero":false},"axis":{"values":[0,20,40,60,80,100,120],"title":"time (frames)","labelPadding":9,"titlePadding":5,"labelFlush":false}},
"y":{"field":"y","type":"quantitative","scale":{"domain":[0,1],"nice":false},"axis":{"values":[0,0.1,0.2,0.3,0.4,0.5,0.6,0.7,0.8,0.9,1],"format":"~g","title":"Flouresence (0 to 1)","labelPadding":7,"titlePadding":8}},
"detail":{"field":"s","type":"nominal"}}},
{"mark":{"type":"point","stroke":"#000","strokeWidth":0.8,"opacity":1,"size":64},
"encoding":{
"x":{"field":"x","type":"quantitative"},
"y":{"field":"y","type":"quantitative"},
"shape":{"field":"s","type":"nominal","scale":{"domain":["P4","P3","P2","P1"],"range":["M-0.5,-0.5L0.5,0.5M-0.5,0.5L0.5,-0.5","M-0.91,0A0.91,0.91,0,1,1,0.91,0A0.91,0.91,0,1,1,-0.91,0Z","M-0.83,0H0.83M0,-0.83V0.83M-0.6,-0.6L0.6,0.6M-0.6,0.6L0.6,-0.6","M-0.59,0A0.59,0.59,0,1,1,0.59,0A0.59,0.59,0,1,1,-0.59,0Z"]},"legend":null},
"fill":{"field":"s","type":"nominal","scale":{"domain":["P1","P2","P3","P4"],"range":["#000","transparent","transparent","transparent"]},
"legend":{"title":null,"orient":"top-right","offset":5,"strokeColor":"#000","fillColor":"#fff","padding":4.5,"cornerRadius":0,"labelFont":"Liberation Sans","labelFontSize":12,"labelColor":"#000","symbolSize":64,"symbolOffset":17,"labelOffset":17,"rowPadding":4.3,"symbolStrokeWidth":0.8,"symbolStrokeColor":"#333",
"symbolType":{"expr":"datum.value==='P1' ? 'M-4.4,0H4.4M-0.59,0A0.59,0.59,0,1,1,0.59,0A0.59,0.59,0,1,1,-0.59,0Z' : datum.value==='P2' ? 'M-4.4,0H4.4M0,-0.83V0.83M-0.6,-0.6L0.6,0.6M-0.6,0.6L0.6,-0.6' : datum.value==='P3' ? 'M-4.4,0H-0.91M0.91,0H4.4M-0.91,0A0.91,0.91,0,1,1,0.91,0A0.91,0.91,0,1,1,-0.91,0Z' : 'M-4.4,0H4.4M-0.5,-0.5L0.5,0.5M-0.5,0.5L0.5,-0.5'"}}
}}}
]
},
{
"width":363,"height":428,
"title":"Output Image Sequence - Exaggerated Test 5 - Z19",
"data":{"name":"out"},
"layer":[
{"mark":{"type":"line","color":"#777","strokeWidth":0.8},
"encoding":{
"x":{"field":"x","type":"quantitative","scale":{"domain":[0,122],"nice":false,"zero":false},"axis":{"values":[0,20,40,60,80,100,120],"title":"time (frames)","labelPadding":9,"titlePadding":5,"labelFlush":false}},
"y":{"field":"y","type":"quantitative","scale":{"domain":[0,1],"nice":false},"axis":{"values":[0,0.1,0.2,0.3,0.4,0.5,0.6,0.7,0.8,0.9,1],"format":"~g","title":"Flouresence (0 to 1)","labelPadding":7,"titlePadding":8}},
"detail":{"field":"s","type":"nominal"}}},
{"mark":{"type":"point","stroke":"#000","strokeWidth":0.8,"opacity":1,"size":64},
"encoding":{
"x":{"field":"x","type":"quantitative"},
"y":{"field":"y","type":"quantitative"},
"shape":{"field":"s","type":"nominal","scale":{"domain":["P4","P3","P2","P1"],"range":["M-0.5,-0.5L0.5,0.5M-0.5,0.5L0.5,-0.5","M-0.91,0A0.91,0.91,0,1,1,0.91,0A0.91,0.91,0,1,1,-0.91,0Z","M-0.83,0H0.83M0,-0.83V0.83M-0.6,-0.6L0.6,0.6M-0.6,0.6L0.6,-0.6","M-0.59,0A0.59,0.59,0,1,1,0.59,0A0.59,0.59,0,1,1,-0.59,0Z"]},"legend":null},
"fill":{"field":"s","type":"nominal","scale":{"domain":["P1","P2","P3","P4"],"range":["#000","transparent","transparent","transparent"]},
"legend":{"title":null,"orient":"top-right","offset":5,"strokeColor":"#000","fillColor":"#fff","padding":4.5,"cornerRadius":0,"labelFont":"Liberation Sans","labelFontSize":12,"labelColor":"#000","symbolSize":64,"symbolOffset":17,"labelOffset":17,"rowPadding":4.3,"symbolStrokeWidth":0.8,"symbolStrokeColor":"#333",
"symbolType":{"expr":"datum.value==='P1' ? 'M-4.4,0H4.4M-0.59,0A0.59,0.59,0,1,1,0.59,0A0.59,0.59,0,1,1,-0.59,0Z' : datum.value==='P2' ? 'M-4.4,0H4.4M0,-0.83V0.83M-0.6,-0.6L0.6,0.6M-0.6,0.6L0.6,-0.6' : datum.value==='P3' ? 'M-4.4,0H-0.91M0.91,0H4.4M-0.91,0A0.91,0.91,0,1,1,0.91,0A0.91,0.91,0,1,1,-0.91,0Z' : 'M-4.4,0H4.4M-0.5,-0.5L0.5,0.5M-0.5,0.5L0.5,-0.5'"}}
}}}
]
}
]
}
